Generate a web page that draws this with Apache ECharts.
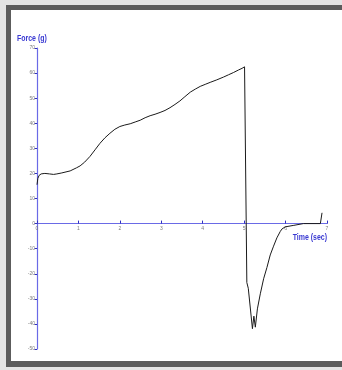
<!DOCTYPE html>
<html>
<head>
<meta charset="utf-8">
<script src="https://cdn.jsdelivr.net/npm/echarts@6/dist/echarts.min.js"></script>
<style>
  html, body { margin: 0; padding: 0; background: #e4e4e4; overflow: hidden; }
  #frame { position: absolute; left: 6px; top: 5px; width: 400px; height: 362px; background: #5c5c5c; }
  #panel { position: absolute; left: 11px; top: 10px; width: 400px; height: 351px; background: #ffffff; }
  #chart { position: absolute; left: 0; top: 0; width: 342px; height: 370px; }
  #edge { position: absolute; left: 332px; top: 10px; width: 20px; height: 351px; background: #ffffff; z-index: 5; }
</style>
</head>
<body>
<div id="frame"></div>
<div id="panel"></div>
<div id="chart"></div>
<div id="edge"></div>
<script>
// Force trace over time (grams vs seconds)
const timeSec = [
  0.00, 0.02, 0.05, 0.10, 0.19, 0.30, 0.40, 0.48, 0.60, 0.80,
  0.95, 1.04, 1.15, 1.28, 1.40, 1.52, 1.64, 1.76, 1.88, 2.00,
  2.12, 2.25, 2.37, 2.49, 2.61, 2.73, 2.85, 2.97, 3.09, 3.21,
  3.33, 3.45, 3.57, 3.70, 3.82, 3.94, 4.06, 4.18, 4.34, 4.50,
  4.62, 4.74, 4.86, 4.95, 5.01, 5.065, 5.10, 5.20, 5.235, 5.27,
  5.32, 5.39, 5.47, 5.55, 5.63, 5.71, 5.79, 5.87, 5.91, 5.99,
  6.20, 6.43, 6.84, 6.88
];
const forceG = [
  15.5, 18.0, 19.2, 19.8, 20.0, 19.8, 19.6, 19.8, 20.2, 21.0,
  22.2, 23.0, 24.5, 26.8, 29.4, 32.0, 34.2, 36.0, 37.6, 38.7,
  39.3, 39.8, 40.5, 41.2, 42.2, 43.0, 43.6, 44.3, 45.1, 46.2,
  47.5, 48.9, 50.6, 52.4, 53.6, 54.7, 55.5, 56.3, 57.3, 58.4,
  59.3, 60.2, 61.2, 61.9, 62.5, -23.5, -25.8, -41.9, -36.9, -41.3,
  -34.0, -28.0, -22.0, -17.5, -12.5, -9.0, -5.7, -3.2, -2.2, -1.3,
  -0.7, 0.0, 0.0, 4.3
];
const xTicks = { min: 0, max: 7, step: 1 };
const yTicks = { min: -50, max: 70, step: 10 };
const yTitle = 'Force (g)';
const xTitle = 'Time (sec)';

const axisBlue = '#6a6ae6';
const tickBlue = '#3030c0';
const labelGrey = '#7c7c7c';
const titleBlue = '#3a3ad2';
const titleFont = 'bold 8.5px "Liberation Sans", Arial, sans-serif';

const plot = { left: 37, top: 48, width: 290, height: 301 };
// lift the time axis from the bottom of the grid up to force = 0
const zeroLift = plot.height * (0 - yTicks.min) / (yTicks.max - yTicks.min);

const chart = echarts.init(document.getElementById('chart'), null, { renderer: 'canvas' });
chart.setOption({
  animation: false,
  backgroundColor: 'transparent',
  grid: Object.assign({ containLabel: false }, plot),
  graphic: [
    { type: 'text', x: 17, y: 34, scaleX: 0.82,
      style: { text: yTitle, fill: titleBlue, font: titleFont, align: 'left', verticalAlign: 'top' } },
    { type: 'text', x: 327, y: 233, scaleX: 0.82,
      style: { text: xTitle, fill: titleBlue, font: titleFont, align: 'right', verticalAlign: 'top' } }
  ],
  xAxis: {
    type: 'value', min: xTicks.min, max: xTicks.max, interval: xTicks.step,
    position: 'bottom', offset: -zeroLift,
    axisLine: { onZero: false, lineStyle: { color: axisBlue, width: 1.2 } },
    axisTick: { inside: true, length: 3, lineStyle: { color: tickBlue } },
    axisLabel: { color: labelGrey, fontSize: 5, margin: 3, fontFamily: 'Liberation Sans' },
    splitLine: { show: false }
  },
  yAxis: {
    type: 'value', min: yTicks.min, max: yTicks.max, interval: yTicks.step,
    axisLine: { onZero: true, lineStyle: { color: axisBlue, width: 1.2 } },
    axisTick: { inside: false, length: 2.5, lineStyle: { color: tickBlue } },
    axisLabel: { color: labelGrey, fontSize: 5, margin: 2, fontFamily: 'Liberation Sans' },
    splitLine: { show: false }
  },
  series: [{
    type: 'line',
    data: timeSec.map((t, i) => [t, forceG[i]]),
    showSymbol: false,
    smooth: false,
    lineStyle: { color: '#1a1a1a', width: 1 },
    z: 3
  }]
});
</script>
</body>
</html>
